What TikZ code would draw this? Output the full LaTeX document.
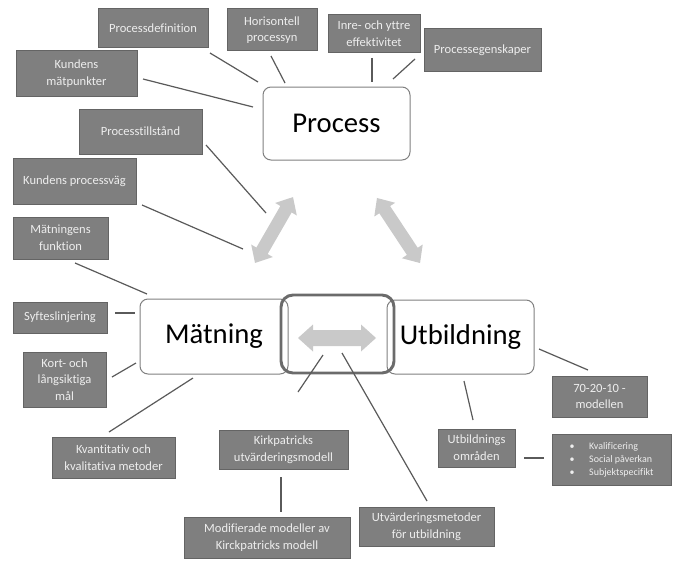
\documentclass[tikz,border=0pt]{standalone}
\usepackage{fontspec}
\setmainfont{Carlito}[Ligatures=NoCommon]
\definecolor{boxfill}{HTML}{7F7F7F}
\definecolor{boxline}{HTML}{646464}
\definecolor{boxtext}{HTML}{EEEEEE}
\definecolor{connc}{HTML}{5A5A5A}
\definecolor{arrowgray}{HTML}{C9C9C9}
\definecolor{bigline}{HTML}{808080}
\definecolor{frameline}{HTML}{6B6B6B}
\tikzset{
 gbox/.style={draw=boxline, line width=0.75pt, fill=boxfill, text=boxtext, inner sep=0pt, align=center, font=\fontsize{9.4}{12.5}\selectfont},
 bigbox/.style={draw=bigline, line width=0.75pt, fill=white, rounded corners=6pt, inner sep=0pt, font=\fontsize{21.5}{26}\selectfont},
 centerframe/.style={draw=frameline, line width=2.2pt, rounded corners=9pt, inner sep=0pt},
 link/.style={draw=connc, line width=0.9pt},
 bigarrow/.style={fill=arrowgray, draw=none},
}
\newcommand\boxat[7][gbox]{\node[#1, minimum width={(#5-#3)*0.75pt}, minimum height={(#6-#4)*0.75pt}] (#2) at ({(#3+#5)/2},{(#4+#6)/2}) {#7};}
% double arrow: name, cx, cy, angle, length, head length, head half width, shaft half width
\newcommand\dblarrow[8]{%
 \begin{scope}[shift={(#2,#3)}, rotate=#4]
  \path[bigarrow] (-#5/2,0) -- (-#5/2+#6,#7) -- (-#5/2+#6,#8) -- (#5/2-#6,#8) -- (#5/2-#6,#7) -- (#5/2,0)
   -- (#5/2-#6,-#7) -- (#5/2-#6,-#8) -- (-#5/2+#6,-#8) -- (-#5/2+#6,-#7) -- cycle;
  \coordinate (#1) at (0,0);
 \end{scope}}
\newcommand\lnk[5]{\coordinate (#1a) at (#2,#3); \coordinate (#1b) at (#4,#5); \draw[link] (#1a) -- (#1b);}
\begin{document}
\begin{tikzpicture}[x=0.75pt,y=-0.75pt]
\useasboundingbox (0,0) rectangle (673,560);

% main boxes
\boxat[bigbox]{process}{263}{87}{410}{160}{Process}
\boxat[bigbox]{matning}{140}{299}{288}{374}{Mätning}
\boxat[bigbox]{utb}{387}{300}{534}{374}{Utbildning}
\boxat[centerframe]{center}{281}{295}{394}{373}{}

% gray boxes
\boxat{procdef}{98}{9}{208}{48}{Processdefinition}
\boxat{horis}{227}{9}{317}{51}{Horisontell\\processyn}
\boxat{inre}{328}{15}{420}{53}{Inre- och yttre\\effektivitet}
\boxat{egensk}{424}{29}{541}{71}{Processegenskaper}
\boxat{kmp}{16}{51}{137}{96}{Kundens\\mätpunkter}
\boxat{tillst}{79}{109}{202}{154}{Processtillstånd}
\boxat{kpv}{13}{158}{136}{204}{Kundens processväg}
\boxat{mfunk}{13}{217}{108}{259}{Mätningens\\funktion}
\boxat{syfte}{13}{302}{107}{333}{Syfteslinjering}
\boxat{kort}{23}{352}{106}{407}{Kort- och\\långsiktiga\\mål}
\boxat{kvant}{52}{437}{175}{478}{Kvantitativ och\\kvalitativa metoder}
\boxat{kirk}{219}{430}{348}{469}{Kirkpatricks\\utvärderingsmodell}
\boxat{modif}{184}{517}{350}{558}{Modifierade modeller av\\Kirckpatricks modell}
\boxat{utvm}{359}{507}{494}{546}{Utvärderingsmetoder\\för utbildning}
\boxat{omr}{438}{429}{515}{467}{Utbildnings\\områden}
\boxat{m7020}{552}{376}{647}{417}{70-20-10 -\\modellen}
\boxat{bullets}{552}{434}{671}{485}{\fontsize{7.5}{9.8}\selectfont\begin{tabular}{@{}c@{\hspace{11pt}}l@{}}\textbullet & Kvalificering\\ \textbullet & Social påverkan\\ \textbullet & Subjektspecifikt\end{tabular}}

% big double arrows
\dblarrow{arrL}{274}{230}{60}{76}{14}{12.5}{6.5}
\dblarrow{arrR}{398.5}{230.5}{-56.5}{78}{14}{12.5}{6.5}
\dblarrow{arrC}{337}{338}{0}{78}{15}{13.5}{8}

% connectors
\lnk{l1}{210}{53}{258}{82}
\lnk{l2}{271}{56}{285}{83}
\lnk{l3}{143}{79}{253}{107}
\lnk{l4}{372}{58}{372}{82}
\lnk{l5}{415}{59}{393}{79}
\lnk{l6}{206}{145}{266}{213}
\lnk{l7}{142}{205}{243}{249}
\lnk{l8}{75}{263}{147}{294}
\lnk{l9}{115}{313}{135}{313}
\lnk{l10}{112}{377}{136}{363}
\lnk{l11}{109}{432}{193}{378}
\lnk{l12}{323}{355}{298}{392}
\lnk{l13}{342}{353}{427}{501}
\lnk{l14}{281}{477}{281}{512}
\lnk{l15}{539}{349}{588}{370}
\lnk{l16}{464}{381}{473}{420}
\lnk{l17}{524}{458}{544}{458}
\end{tikzpicture}
\end{document}
